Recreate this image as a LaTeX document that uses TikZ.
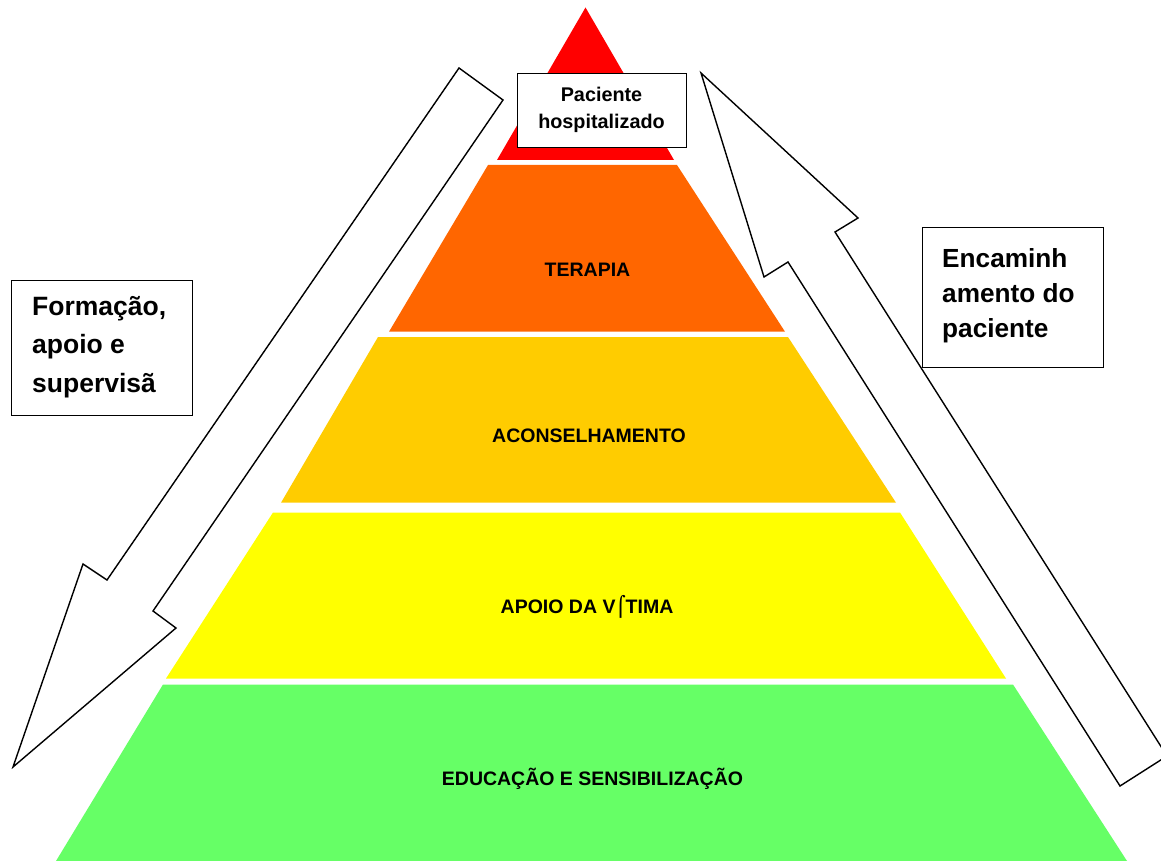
\documentclass[tikz,border=0pt]{standalone}
\usepackage{fontspec}
\setmainfont{Liberation Sans}
\newfontfamily\dejavu{DejaVu Sans}
\definecolor{lvred}{HTML}{FF0000}
\definecolor{lvorange}{HTML}{FF6600}
\definecolor{lvgold}{HTML}{FFCC00}
\definecolor{lvyellow}{HTML}{FFFF00}
\definecolor{lvgreen}{HTML}{66FF66}
\begin{document}
\begin{tikzpicture}[x=1pt,y=-1pt,
  layer/.style={draw=none},
  blockarrow/.style={draw=black,line width=1.4pt,fill=white,line join=miter},
  labelbox/.style={draw=black,line width=1.3pt,fill=white,inner sep=0pt},
  lvlabel/.style={anchor=base,inner sep=0pt,font=\fontsize{19.5}{23}\selectfont\bfseries},
  boxtext/.style={anchor=north west,inner sep=0pt,align=left,font=\fontsize{26.5}{38.5}\selectfont\bfseries}]
\useasboundingbox (0,0) rectangle (1161,861);
\fill[white] (0,0) rectangle (1161,861);
% pyramid layers
\fill[lvred]    (585.5,7.5) -- (674,160) -- (497,160) -- cycle;
\fill[lvorange] (488,165) -- (677,165) -- (785,331.7) -- (389,331.7) -- cycle;
\fill[lvgold]   (378,337) -- (788,337) -- (896,502.7) -- (281,502.7) -- cycle;
\fill[lvyellow] (273,512.5) -- (900,512.5) -- (1006,678.5) -- (166,678.5) -- cycle;
\fill[lvgreen]  (163,684.5) -- (1013,684.5) -- (1127,861) -- (56,861) -- cycle;
% level labels
\node[lvlabel] (terapia) at (587.5,276) {TERAPIA};
\node[lvlabel] (acons) at (589,442) {ACONSELHAMENTO};
\node[lvlabel] (apoio) at (587,613) {APOIO DA V{\dejavu\fontseries{m}\selectfont ⌠}TIMA};
\node[lvlabel] (educ) at (592.5,785) {EDUCAÇÃO E SENSIBILIZAÇÃO};
% block arrows
\draw[blockarrow] (459,68) -- (503,100) -- (153,611) -- (176,628) -- (13,767) -- (83,564) -- (107,580) -- cycle;
\draw[blockarrow] (701,73) -- (858,218) -- (835,232) -- (1167,756) -- (1120,786) -- (788,262) -- (764,277) -- cycle;
% top box
\node[labelbox,minimum width=169pt,minimum height=74pt,anchor=north west] (pacbox) at (517,73) {};
\node[anchor=base,inner sep=0pt,align=center,font=\fontsize{19.8}{26.7}\selectfont\bfseries] (pactext) at (601.5,101.7) {Paciente};
\node[anchor=base,inner sep=0pt,font=\fontsize{19.8}{26.7}\selectfont\bfseries] (hosptext) at (601.5,128.4) {hospitalizado};
% left box
\node[labelbox,minimum width=181pt,minimum height=135pt,anchor=north west] (formbox) at (11,280) {};
\node[boxtext] (formtext) at (32,291) {\rule{0pt}{24pt}Formação,\\apoio e\\supervisã};
% right box
\node[labelbox,minimum width=181pt,minimum height=140pt,anchor=north west] (encbox) at (922,227) {};
\node[boxtext,font=\fontsize{26.2}{35}\selectfont\bfseries] (enctext) at (942,243) {\rule{0pt}{24pt}Encaminh\\amento do\\paciente};
\end{tikzpicture}
\end{document}
